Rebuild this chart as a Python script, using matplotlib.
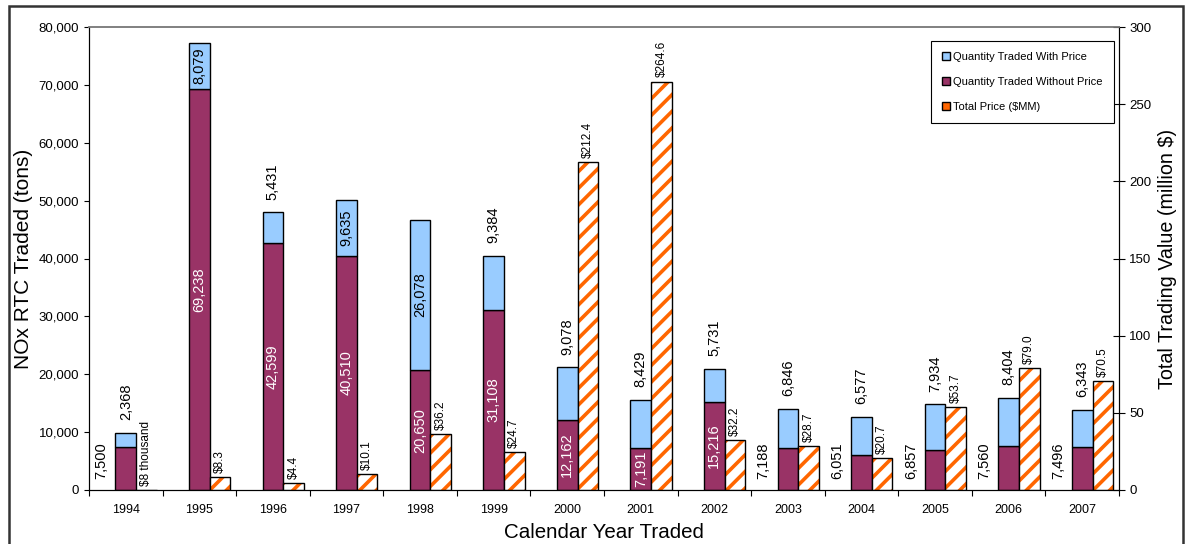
import numpy as np
import matplotlib
matplotlib.use("Agg")
import matplotlib.pyplot as plt
from matplotlib.patches import Patch, Rectangle
from matplotlib.ticker import FuncFormatter

plt.rcParams['font.family'] = ['Liberation Sans', 'DejaVu Sans']
plt.rcParams['hatch.linewidth'] = 2.6

years = ['1994', '1995', '1996', '1997', '1998', '1999', '2000',
         '2001', '2002', '2003', '2004', '2005', '2006', '2007']
without_price = [7500, 69238, 42599, 40510, 20650, 31108, 12162,
                 7191, 15216, 7188, 6051, 6857, 7560, 7496]
with_price = [2368, 8079, 5431, 9635, 26078, 9384, 9078,
              8429, 5731, 6846, 6577, 7934, 8404, 6343]
total_price = [0.008, 8.3, 4.4, 10.1, 36.2, 24.7, 212.4,
               264.6, 32.2, 28.7, 20.7, 53.7, 79.0, 70.5]
price_labels = ['$8 thousand', '$8.3', '$4.4', '$10.1', '$36.2', '$24.7', '$212.4',
                '$264.6', '$32.2', '$28.7', '$20.7', '$53.7', '$79.0', '$70.5']
# years whose labels sit inside the bar segment
without_inside = ['1995', '1996', '1997', '1998', '1999', '2000', '2001', '2002']
with_inside = ['1995', '1997', '1998']

blue = '#99CCFF'
purple = '#993366'
orange = '#FF6600'

fig = plt.figure(figsize=(11.91, 5.44), dpi=100)
ax = fig.add_axes([89/1191, 54/544, 1030/1191, 463/544])
ax2 = ax.twinx()

x = np.arange(len(years))
w = 0.28

ax.bar(x, without_price, w, color=purple, edgecolor='black', linewidth=1, zorder=2)
ax.bar(x, with_price, w, bottom=without_price, color=blue, edgecolor='black',
       linewidth=1, zorder=2)

ax2.bar(x + w, total_price, w, color='white', edgecolor=orange, hatch='//',
        linewidth=0, zorder=2)
ax2.bar(x + w, total_price, w, fill=False, edgecolor='black', linewidth=1, zorder=3)

fmt = lambda v: f"{v:,}"
for i, yr in enumerate(years):
    wo = without_price[i]
    wi = with_price[i]
    if yr in without_inside:
        ax.text(x[i], wo / 2, fmt(wo), rotation=90, ha='center', va='center',
                color='white', fontsize=10.5, zorder=4)
    else:
        ax.text(x[i] - 0.33, 5000, fmt(wo), rotation=90, ha='center', va='center',
                color='black', fontsize=10.5, zorder=4)
    if yr in with_inside:
        ax.text(x[i], wo + wi / 2, fmt(wi), rotation=90, ha='center', va='center',
                color='black', fontsize=10.5, zorder=4)
    else:
        ax.annotate(fmt(wi), (x[i], wo + wi), xytext=(0, 9), textcoords='offset points',
                    rotation=90, ha='center', va='bottom', fontsize=10.5, zorder=4)
    ax2.annotate(price_labels[i], (x[i] + w, total_price[i]), xytext=(0, 3),
                 textcoords='offset points', rotation=90, ha='center', va='bottom',
                 fontsize=8.5, zorder=4)

ax.set_xlim(-0.5, len(years) - 0.5)
ax.set_ylim(0, 80000)
ax2.set_ylim(0, 300)
ax.set_yticks(np.arange(0, 80001, 10000))
ax.yaxis.set_major_formatter(FuncFormatter(lambda v, p: f"{int(v):,}"))
ax2.set_yticks(np.arange(0, 301, 50))

ax.set_xticks(np.arange(len(years) + 1) - 0.5)
ax.set_xticklabels([])
ax.set_xticks(x, minor=True)
ax.set_xticklabels(years, minor=True)
ax.tick_params(axis='x', which='major', length=4, direction='out')
ax.tick_params(axis='x', which='minor', length=0, labelsize=9, pad=10)
ax.tick_params(axis='y', length=3.5, direction='out', labelsize=9.5)
ax2.tick_params(axis='y', length=8, direction='inout', labelsize=9.5)

for a in (ax, ax2):
    a.spines['top'].set_color('#808080')
    a.spines['top'].set_linewidth(1.2)
ax.set_zorder(ax2.get_zorder() - 1)
ax2.patch.set_visible(False)

ax.set_ylabel('NOx RTC Traded (tons)', fontsize=15)
ax.yaxis.set_label_coords(-0.054, 0.5)
ax2.set_ylabel('Total Trading Value (million $)', fontsize=14.2)
ax2.yaxis.set_label_coords(1.038, 0.5)
ax.set_xlabel('Calendar Year Traded', fontsize=14.8, labelpad=5)

handles = [Patch(facecolor=blue, edgecolor='black'),
           Patch(facecolor=purple, edgecolor='black'),
           Patch(facecolor=orange, edgecolor='black')]
labels = ['Quantity Traded With Price', 'Quantity Traded Without Price', 'Total Price ($MM)']
leg = ax2.legend(handles, labels, loc='upper right', bbox_to_anchor=(0.995, 0.97),
                 fontsize=8, handlelength=0.7, handleheight=0.7, handletextpad=0.3,
                 labelspacing=1.35, borderpad=1.0, borderaxespad=0, fancybox=False,
                 framealpha=1, edgecolor='black')
leg.get_frame().set_linewidth(0.8)

fig.patches.append(Rectangle((9/1191, -0.01), 1174/1191, 1 - 6/544 + 0.01,
                             transform=fig.transFigure, fill=False,
                             edgecolor='#333333', linewidth=1.8))

fig.savefig('out.png', dpi=100)
